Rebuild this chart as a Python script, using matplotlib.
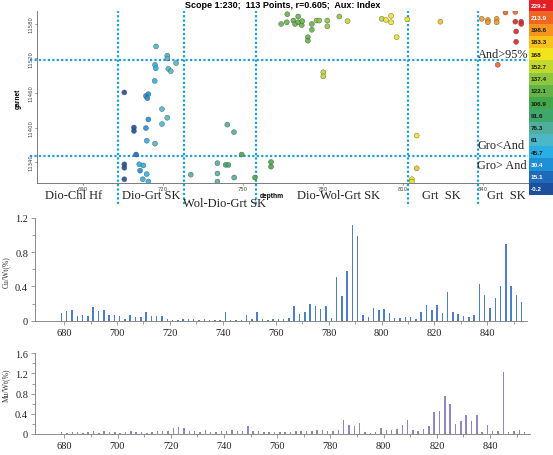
import numpy as np
import matplotlib
matplotlib.use("Agg")
import matplotlib.pyplot as plt
import matplotlib.transforms as mtransforms
from matplotlib.colors import ListedColormap, BoundaryNorm

# ---- top panel: garnet vs depth, coloured by sample index ----
sc_depth = [705.5, 709.1, 709.1, 709.9, 705.5, 705.5, 705.5,
            711.1, 712.6, 711.4, 713.9, 712.4, 714.5, 713.6, 714.5, 714.1,
            714.5, 713.6, 713.9, 717.0, 716.9, 717.0, 717.3, 717.4, 719.6,
            719.6, 721.6, 721.6, 721.6, 722.0, 722.9, 724.9,
            730.4, 740.4, 740.4, 740.4, 743.5, 744.5, 744.1, 746.6, 746.7,
            749.5, 754.5, 760.5, 760.5,
            764.3, 766.6, 766.4, 768.9, 769.5, 770.7, 770.7, 772.0, 772.2,
            774.3, 774.3, 775.8, 775.8, 777.6, 778.6, 781.6, 781.6, 786.1,
            789.2, 780.1, 780.1,
            802.0, 803.6, 805.5, 805.5, 807.6, 811.6, 813.3, 813.3, 815.1,
            815.1, 824.0,
            839.5, 841.8, 841.8, 845.1, 845.1, 845.5, 848.4, 852.1, 852.1,
            854.3, 854.3, 852.4, 852.4]
sc_garnet = [11461, 11400, 11394, 11353, 11336, 11330, 11310,
             11336, 11334, 11325, 11319, 11310, 11306, 11455, 11458, 11451,
             11414, 11399, 11377, 11372, 11481, 11509, 11503, 11541, 11432,
             11406, 11417, 11525, 11520, 11502, 11498, 11512,
             11318, 11338, 11320, 11306, 11335, 11335, 11405, 11392, 11313,
             11353, 11313, 11340, 11332,
             11580, 11597, 11583, 11586, 11580, 11593, 11583, 11578, 11585,
             11557, 11551, 11580, 11570, 11586, 11586, 11586, 11576, 11593,
             11585, 11496, 11489,
             11589, 11587, 11594, 11583, 11557, 11588, 11310, 11306, 11386,
             11329, 11584,
             11589, 11587, 11583, 11589, 11583, 11509, 11600, 11601, 11584,
             11584, 11580, 11567, 11549]
sc_index = [3, 5, 6, 12, 2, 3, 0,
            40, 42, 38, 45, 44, 47, 36, 36, 37,
            33, 30, 44, 58, 50, 52, 53, 66, 56,
            58, 57, 62, 63, 65, 66, 68,
            75, 80, 81, 82, 84, 85, 78, 79, 82,
            100, 104, 108, 110,
            115, 118, 117, 118, 119, 120, 121, 122, 123,
            124, 125, 126, 127, 130, 131, 140, 141, 145,
            150, 152, 153,
            160, 161, 163, 164, 165, 168, 172, 173, 175,
            176, 180,
            196, 198, 200, 201, 203, 212, 214, 218, 226,
            229, 229, 227, 228]

zone_names = ["Dio-Chl Hf", "Dio-Grt SK", "Wol-Dio-Grt SK", "Dio-Wol-Grt SK",
              "Grt  SK", "Grt  SK"]
zone_bounds = [703, 728, 755, 812, 838]
garnet_bounds = [11518, 11350]

cb_levels = [-0.2, 15.1, 30.4, 45.7, 61, 76.3, 91.6, 106.9, 122.1, 137.4,
             152.7, 168, 183.3, 198.6, 213.9, 229.2]
cb_colors = ["#1d4f9c", "#1f6ab8", "#1f8fd6", "#2aaee4", "#4bb7c9", "#52ae9c",
             "#3fa76c", "#43a84a", "#62b446", "#8dc63f", "#c2d82f", "#f2e41c",
             "#f8c21b", "#f6951e", "#f06424", "#e22026"]

# ---- bottom panels: assays ----
depth = [679, 681, 683, 685, 687, 689, 691, 693, 695, 697,
         699, 701, 703, 705, 707, 709, 711, 713, 715, 717,
         719, 721, 723, 725, 727, 729, 731, 733, 735, 737,
         739, 741, 743, 745, 747, 749, 751, 753, 755, 757,
         759, 761, 763, 765, 767, 769, 771, 773, 775, 777,
         779, 781, 783, 785, 787, 789, 791, 793, 795, 797,
         799, 801, 803, 805, 807, 809, 811, 813, 815, 817,
         819, 821, 823, 825, 827, 829, 831, 833, 835, 837,
         839, 841, 843, 845, 847, 849, 851, 853]
cu = [0.09, 0.11, 0.12, 0.06, 0.07, 0.06, 0.16, 0.11, 0.13, 0.07,
      0.07, 0.05, 0.02, 0.07, 0.04, 0.04, 0.10, 0.05, 0.05, 0.05,
      0.02, 0.01, 0.01, 0.02, 0.02, 0.02, 0.01, 0.02, 0.01, 0.01,
      0.01, 0.10, 0.01, 0.01, 0.01, 0.07, 0.02, 0.10, 0.02, 0.01,
      0.02, 0.02, 0.02, 0.03, 0.17, 0.08, 0.10, 0.19, 0.17, 0.14,
      0.17, 0.03, 0.51, 0.29, 0.58, 1.12, 0.99, 0.07, 0.04, 0.15,
      0.12, 0.14, 0.09, 0.03, 0.03, 0.04, 0.04, 0.02, 0.10, 0.18,
      0.13, 0.18, 0.09, 0.34, 0.10, 0.08, 0.06, 0.04, 0.07, 0.43,
      0.30, 0.15, 0.26, 0.40, 0.90, 0.41, 0.30, 0.22]
mu = [0.04, 0.02, 0.03, 0.03, 0.02, 0.04, 0.05, 0.02, 0.06, 0.04,
      0.04, 0.02, 0.04, 0.05, 0.04, 0.03, 0.02, 0.03, 0.06, 0.05,
      0.06, 0.12, 0.13, 0.11, 0.06, 0.05, 0.04, 0.07, 0.04, 0.03,
      0.06, 0.06, 0.07, 0.05, 0.06, 0.15, 0.05, 0.05, 0.04, 0.03,
      0.03, 0.03, 0.04, 0.04, 0.05, 0.05, 0.05, 0.05, 0.07, 0.08,
      0.06, 0.06, 0.07, 0.28, 0.17, 0.15, 0.21, 0.03, 0.02, 0.04,
      0.12, 0.08, 0.08, 0.09, 0.17, 0.28, 0.08, 0.05, 0.10, 0.15,
      0.43, 0.46, 0.76, 0.60, 0.20, 0.25, 0.38, 0.25, 0.38, 0.03,
      0.18, 0.05, 0.05, 1.22, 0.04, 0.05, 0.08, 0.03]

W, H = 553, 456


def box(x0, y0, x1, y1):
    # pixel box (top-left origin) -> figure fraction rect
    return [x0 / W, 1 - y1 / H, (x1 - x0) / W, (y1 - y0) / H]


fig = plt.figure(figsize=(W / 100, H / 100), dpi=100)
fig.patch.set_facecolor("white")

# ---------- scatter ----------
ax = fig.add_axes(box(37, 12, 530, 184))
bounds = [lv - 7.65 for lv in cb_levels] + [cb_levels[-1] + 7.65]
cmap = ListedColormap(cb_colors)
norm = BoundaryNorm(bounds, cmap.N)
ax.scatter(sc_depth, sc_garnet, c=sc_index, cmap=cmap, norm=norm, s=13,
           edgecolors="#4a4a4a", linewidths=0.3, alpha=0.9, zorder=3)
ax.set_xlim(672.75, 857.6)
ax.set_ylim(11303.5, 11602.6)
for s in ["top", "right"]:
    ax.spines[s].set_visible(False)
for s in ["left", "bottom"]:
    ax.spines[s].set_color("#666666")
    ax.spines[s].set_linewidth(0.6)
ax.set_xticks([690, 720, 750, 780, 810, 840])
ax.set_yticks([11340, 11400, 11460, 11520, 11580])
ax.tick_params(axis="both", labelsize=3.8, length=1.5, width=0.4, pad=1,
               colors="#444444")
plt.setp(ax.get_yticklabels(), rotation=90, va="center")

dot = dict(color="#1f9fd6", lw=1.6, ls=(0, (1, 1)), zorder=2, clip_on=False)
for xb in zone_bounds:
    ax.axvline(xb, ymin=-0.122, ymax=1.0, **dot)
for yb in garnet_bounds:
    ax.axhline(yb, xmin=-0.014, xmax=0.996, **dot)

serif = "Liberation Serif"
trans = mtransforms.blended_transform_factory(ax.transData, ax.transAxes)
zone_x = [686.3, 715.5, 742.9, 786.0, 824.3, 848.6]
zone_y = [-0.07, -0.07, -0.116, -0.07, -0.07, -0.07]
for name, zx, zy in zip(zone_names, zone_x, zone_y):
    ax.text(zx, zy, name, transform=trans, ha="center", va="center",
            fontsize=9, family=serif, color="#222222")
for txt, gy in [("And>95%", 11528), ("Gro<And", 11370), ("Gro> And", 11335)]:
    ax.text(837.9, gy, txt, ha="left", va="center", fontsize=8.8,
            family=serif, color="#222222")

fig.text(283 / W, 1 - 5 / H, "Scope 1:230;  113 Points, r=0.605;  Aux: Index",
         ha="center", va="center", fontsize=6.5, fontweight="bold",
         family="Liberation Sans")
fig.text(18 / W, 1 - 99 / H, "garnet", rotation=90, ha="center", va="center",
         fontsize=4.8, fontweight="bold", family="Liberation Sans")
fig.text(272 / W, 1 - 196 / H, "depthm", ha="center", va="center",
         fontsize=4.8, fontweight="bold", family="Liberation Sans")

# ---------- discrete colour bar ----------
cax = fig.add_axes(box(529, 0, 553, 196))
cax.imshow(np.arange(len(cb_levels))[:, None], cmap=cmap, aspect="auto",
           origin="lower", extent=(0, 1, 0, len(cb_levels)))
cax.set_xlim(0, 1)
cax.set_ylim(0, len(cb_levels))
cax.axis("off")
for i, lv in enumerate(cb_levels):
    light = i <= 2 or i >= 14
    cax.text(0.08, i + 0.5, f"{lv:g}", ha="left", va="center", fontsize=4.6,
             fontweight="bold", family="Liberation Sans",
             color="white" if light else "#1a1a1a")


# ---------- bar panels ----------
def bar_panel(rect, values, color, ymax, ylab, lab_y):
    bx = fig.add_axes(rect)
    bx.bar(depth, values, width=0.55, color=color, zorder=2)
    bx.set_xlim(669, 855)
    bx.set_ylim(0, ymax)
    for s in ["top", "right"]:
        bx.spines[s].set_visible(False)
    for s in ["left", "bottom"]:
        bx.spines[s].set_color("#8a8a8a")
        bx.spines[s].set_linewidth(0.7)
    bx.set_xticks(range(680, 841, 20))
    bx.set_xticks(range(680, 851, 10), minor=True)
    bx.set_yticks(np.arange(0, ymax + 0.01, 0.4))
    bx.set_yticks(np.arange(0, ymax + 0.01, 0.2), minor=True)
    bx.set_yticklabels([f"{v:g}" for v in np.arange(0, ymax + 0.01, 0.4)])
    bx.tick_params(which="both", direction="out", color="#8a8a8a", width=0.6)
    bx.tick_params(which="major", length=3, labelsize=7.5, pad=2,
                   labelcolor="#222222")
    bx.tick_params(which="minor", length=2)
    for lab in bx.get_xticklabels() + bx.get_yticklabels():
        lab.set_family(serif)
    fig.text(6 / W, 1 - lab_y / H, ylab, rotation=90, ha="center",
             va="center", fontsize=5.5, family=serif, color="#333333")
    return bx


bar_panel(box(35, 219, 527, 321.7), cu, "#4f7fc2", 1.2, "Cu/Wt(%)", 272)
bar_panel(box(35, 354.3, 530, 435), mu, "#8a8ac0", 1.6, "Mu/Wt(%)", 385)

fig.savefig("out.png", dpi=100)
